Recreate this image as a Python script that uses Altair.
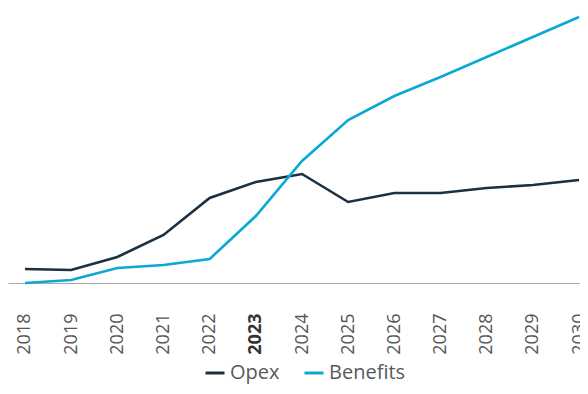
import altair as alt
import pandas as pd

years = [2018, 2019, 2020, 2021, 2022, 2023, 2024, 2025, 2026, 2027, 2028, 2029, 2030]
opex = [14, 13, 26, 48, 85, 101, 109, 81, 90, 90, 95, 98, 103]
benefits = [0, 3, 15, 18, 24, 67, 122, 163, 187, 206, 226, 246, 266]
series = ["Opex", "Benefits"]
colors = ["#1c3042", "#0aa9d3"]

rows = []
for y, o, b in zip(years, opex, benefits):
    rows.append({"year": y, "series": "Opex", "value": o})
    rows.append({"year": y, "series": "Benefits", "value": b})
df = pd.DataFrame(rows)

chart = alt.Chart(df).mark_line(strokeWidth=2.6).encode(
    x=alt.X("year:Q",
            scale=alt.Scale(domain=[2017.632, 2030.021], nice=False, zero=False),
            axis=alt.Axis(values=years, title=None, grid=False, ticks=False,
                          labelAngle=-90, labelAlign="right", labelBaseline="middle",
                          labelPadding=30, labelFontSize=18, labelFont="Open Sans",
                          labelColor=alt.condition("datum.value == 2023", alt.value("#333333"), alt.value("#555555")),
                          labelFontWeight=alt.condition("datum.value == 2023", alt.value("bold"), alt.value("normal")),
                          domainColor="#aaaaaa", domainWidth=1.2, format="d",
                          labelOverlap=False, labelFlush=False)),
    y=alt.Y("value:Q", scale=alt.Scale(domain=[0, 275], nice=False), axis=None),
    color=alt.Color("series:N",
                    scale=alt.Scale(domain=series, range=colors),
                    legend=alt.Legend(title=None, orient="none", legendX=196, legendY=354,
                                      direction="horizontal", symbolType="stroke",
                                      symbolStrokeWidth=3, symbolSize=361,
                                      labelFontSize=20, labelFont="Open Sans",
                                      labelColor="#5a5a5a", columnPadding=18,
                                      labelOffset=4, padding=0)),
).properties(
    width=572, height=275,
    padding={"left": 0, "top": 0, "right": 0, "bottom": 103},
    autosize=alt.AutoSizeParams(type="none"),
).configure_view(stroke=None)

chart.save("out.html", embed_options={"renderer": "svg", "actions": False})
